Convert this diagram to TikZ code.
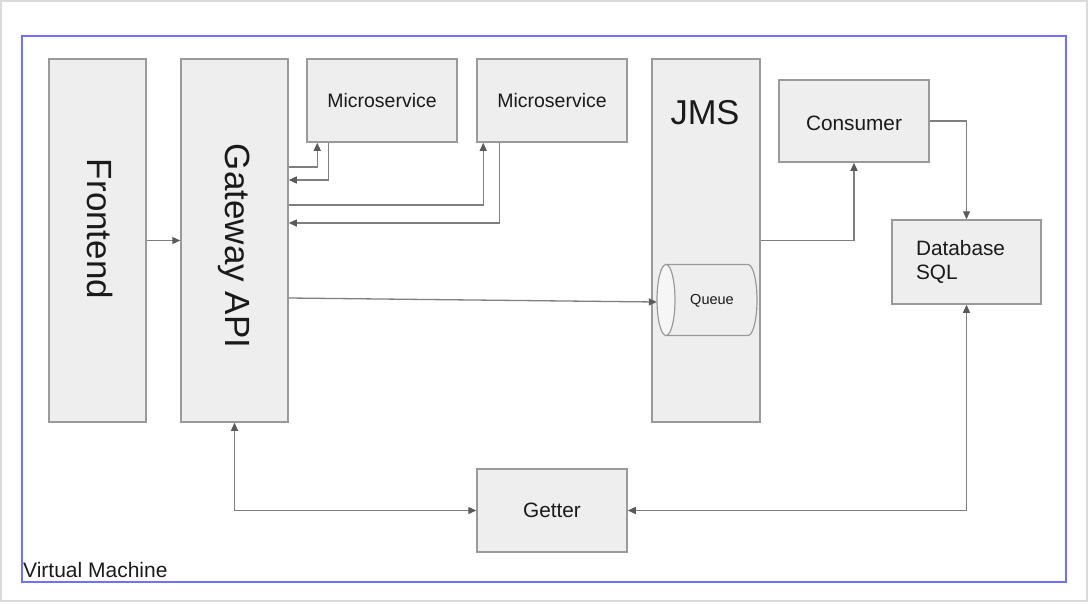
\documentclass[tikz,border=0pt]{standalone}
\usepackage{fontspec}
\setmainfont{Liberation Sans}
\usetikzlibrary{arrows.meta,calc}
\definecolor{boxfill}{HTML}{EEEEEE}
\definecolor{boxline}{HTML}{9A9A9A}
\definecolor{linecol}{HTML}{7F7F7F}
\definecolor{tipcol}{HTML}{5A5A5A}
\definecolor{vmblue}{RGB}{112,112,255}
\definecolor{framecol}{HTML}{DADADA}
\definecolor{txt}{HTML}{1A1A1A}
\definecolor{endfill}{HTML}{F6F6F6}
\begin{document}
\begin{tikzpicture}[x=1pt,y=-1pt,
  box/.style={draw=boxline, fill=boxfill, line width=1.5pt, inner sep=0pt, text=txt},
  mid/.style={font=\fontsize{19.5}{24}\selectfont},
  midb/.style={font=\fontsize{20.8}{24}\selectfont},
  big/.style={font=\fontsize{35}{42}\selectfont, text=txt, inner sep=0pt},
  conn/.style={draw=linecol, line width=1.3pt, -{Triangle[length=8pt,width=7pt,color=tipcol]}},
  conntwo/.style={draw=linecol, line width=1.3pt, {Triangle[length=8pt,width=7pt,color=tipcol]}-{Triangle[length=8pt,width=7pt,color=tipcol]}}]
\useasboundingbox (0,0) rectangle (1090,603);
\draw[framecol, line width=1.5pt] (0.75,0.75) rectangle (1087,601);
\draw[vmblue, line width=1.5pt] (22,36) rectangle (1066,582);
\node[anchor=base west, inner sep=0pt, text=txt, font=\fontsize{21}{25}\selectfont] (vm) at (23,577.5) {Virtual Machine};

% boxes
\node[box, minimum width=97pt, minimum height=363pt] (fe) at (97.5,240.5) {};
\node[box, minimum width=107pt, minimum height=363pt] (gw) at (234.5,240.5) {};
\node[box, mid, minimum width=150pt, minimum height=83pt] (ms1) at (382,100.5) {Microservice};
\node[box, mid, minimum width=150pt, minimum height=83pt] (ms2) at (552,100.5) {Microservice};
\node[box, minimum width=108pt, minimum height=363pt] (jms) at (706,240.5) {};
\node[box, midb, minimum width=150pt, minimum height=82pt] (consumer) at (854,121) {\raisebox{-2.5pt}[\height][\depth]{Consumer}};
\node[box, midb, minimum width=149pt, minimum height=84pt, text width=101pt, inner xsep=24pt, align=left] (db) at (966.5,262) {Database\\SQL};
\node[box, midb, minimum width=150pt, minimum height=83pt] (getter) at (552,510.5) {Getter};

% big labels
\node[big, rotate=-90] (fetext) at (100,229) {Frontend};
\node[big, rotate=-90] (gwtext) at (234,246) {Gateway API};
\node[big, font=\fontsize{34.5}{40}\selectfont] (jmstext) at (705,113) {JMS};

% queue cylinder
\node[inner sep=0pt, minimum width=100pt, minimum height=71pt] (queue) at (707,300) {};
\path[draw=boxline, fill=boxfill, line width=1.2pt] (666,264.5) -- (748,264.5)
  arc[start angle=-90, end angle=90, x radius=9, y radius=35.5] -- (666,335.5) -- cycle;
\path[draw=boxline, fill=endfill, line width=1.2pt] (666,300) ellipse[x radius=9, y radius=35.5];
\node[inner sep=0pt, text=txt, font=\fontsize{14.5}{17}\selectfont] (qtext) at (712,301) {Queue};

% connectors
\draw[conn] (fe) -- (gw);
\draw[conn] (gw.east |- 0,167) -| ([xshift=11pt]ms1.south west);
\draw[conn] ([xshift=22pt]ms1.south west) |- (gw.east |- 0,180);
\draw[conn] (gw.east |- 0,205) -| ([xshift=7pt]ms2.south west);
\draw[conn] ([xshift=23pt]ms2.south west) |- (gw.east |- 0,223);
\draw[conn] (gw.east |- 0,298) -- (queue.west |- 0,302);
\draw[conn] (jms.east) -| (consumer.south);
\draw[conn] (consumer.east) -| (db.north);
\draw[conntwo] (getter.east) -| (db.south);
\draw[conntwo] (gw.south) |- (getter.west);
\end{tikzpicture}
\end{document}
